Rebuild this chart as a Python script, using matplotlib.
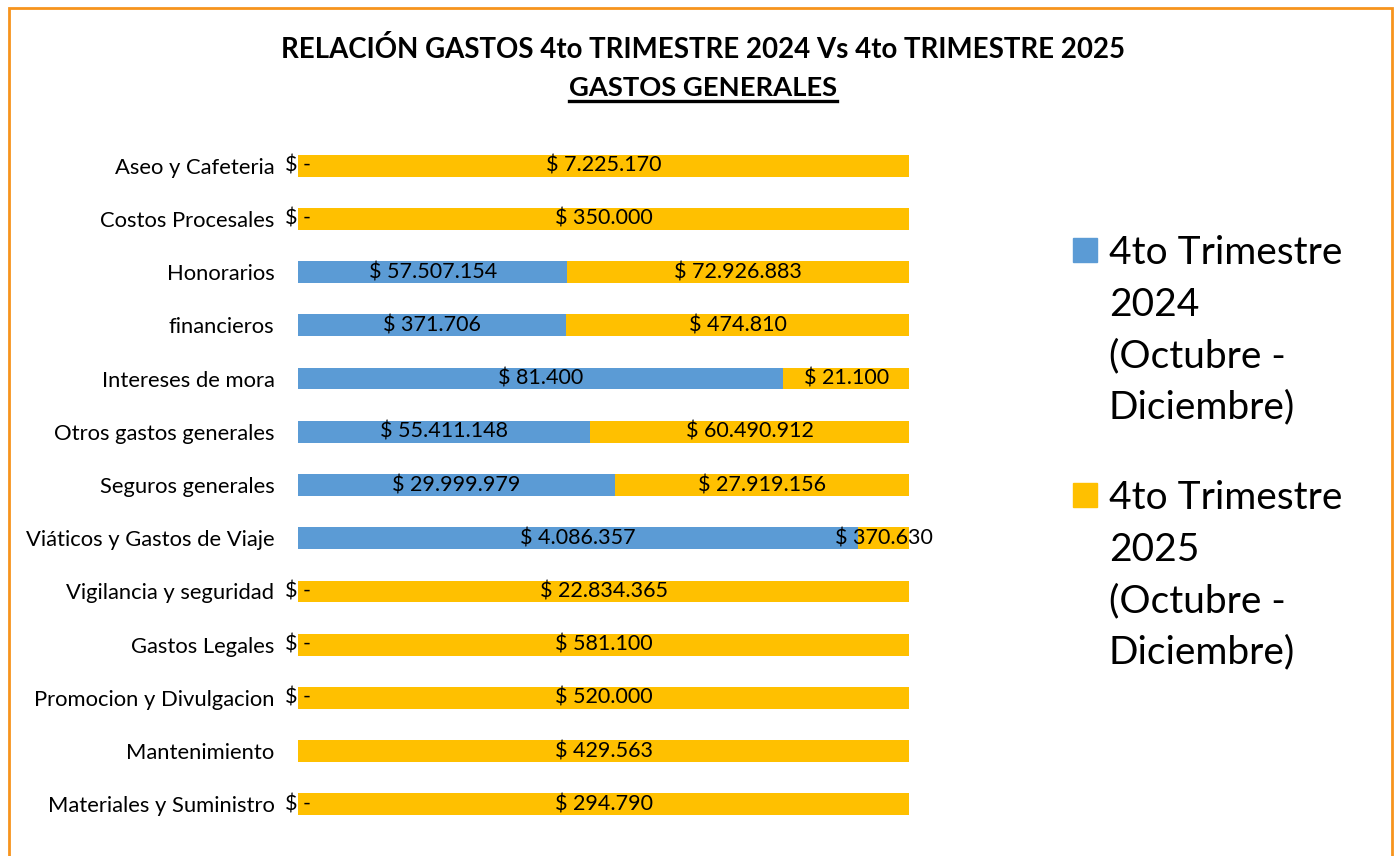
import numpy as np
import matplotlib
matplotlib.use("Agg")
import matplotlib.pyplot as plt
from matplotlib.patches import Rectangle
from matplotlib.lines import Line2D

plt.rcParams['font.family'] = ['Lato', 'DejaVu Sans']

categories = ["Aseo y Cafeteria", "Costos Procesales", "Honorarios", "financieros",
              "Intereses de mora", "Otros gastos generales", "Seguros generales",
              "Viáticos y Gastos de Viaje", "Vigilancia y seguridad", "Gastos Legales",
              "Promocion y Divulgacion", "Mantenimiento", "Materiales y Suministro"]
# None = no value in the sheet (no label shown)
gastos_2024 = [0, 0, 57507154, 371706, 81400, 55411148, 29999979, 4086357,
               0, 0, 0, None, 0]
gastos_2025 = [7225170, 350000, 72926883, 474810, 21100, 60490912, 27919156, 370630,
               22834365, 581100, 520000, 429563, 294790]
series_names = ["4to Trimestre\n2024\n(Octubre -\nDiciembre)",
                "4to Trimestre\n2025\n(Octubre -\nDiciembre)"]

BLUE = "#5B9BD5"
YELLOW = "#FFC000"
BORDER = "#F7941D"


def money(v):
    if v == 0:
        return "$ -"
    return "$ " + f"{v:,}".replace(",", ".")


a = np.array([0 if v is None else v for v in gastos_2024], dtype=float)
b = np.array(gastos_2025, dtype=float)
tot = a + b
pa = a / tot
pb = b / tot

fig = plt.figure(figsize=(14, 8.56), dpi=100)
ax = fig.add_axes([0.2129, 0.0292, 0.4364, 0.8084])

y = np.arange(len(categories))
h = 0.41
ax.barh(y, pa, height=h, color=BLUE)
ax.barh(y, pb, left=pa, height=h, color=YELLOW)

lab_fs = 15.5
for i in range(len(categories)):
    if gastos_2024[i] is not None:
        ax.text(pa[i] / 2, y[i], money(gastos_2024[i]), ha="center", va="center",
                fontsize=lab_fs, color="black")
    ax.text(pa[i] + pb[i] / 2, y[i], money(gastos_2025[i]), ha="center", va="center",
            fontsize=lab_fs, color="black")

ax.set_xlim(0, 1)
ax.set_ylim(len(categories) - 0.5, -0.5)
ax.set_yticks(y)
ax.set_yticklabels(categories, fontsize=15.8)
ax.tick_params(axis="y", length=0, pad=17)
ax.set_xticks([])
for s in ax.spines.values():
    s.set_visible(False)

# title
fig.text(0.502, 0.942, "RELACIÓN GASTOS 4to TRIMESTRE 2024 Vs 4to TRIMESTRE 2025",
         ha="center", va="center", fontsize=19.9, fontweight="bold")
sub = fig.text(0.502, 0.897, "GASTOS GENERALES", ha="center", va="center",
               fontsize=19.7, fontweight="bold")
fig.canvas.draw()
bb = sub.get_window_extent().transformed(fig.transFigure.inverted())
fig.add_artist(Line2D([bb.x0, bb.x1], [bb.y0 - 0.001, bb.y0 - 0.001],
                      transform=fig.transFigure, color="black", lw=2.4))

# legend, handle aligned with first text line
leg_fs = 28
for k, (name, col) in enumerate(zip(series_names, [BLUE, YELLOW])):
    mid = 0.708 - k * 0.286
    fig.add_artist(Rectangle((0.7664, mid - 0.014), 0.0171, 0.028,
                             transform=fig.transFigure, color=col))
    fig.text(0.792, mid + 0.0169, name, ha="left", va="top", fontsize=leg_fs,
             linespacing=1.53)

# outer orange frame (bottom edge runs off the picture)
fig.add_artist(Rectangle((0.0064, -0.05), 0.988, 1.041, transform=fig.transFigure,
                         fill=False, edgecolor=BORDER, lw=2))

fig.savefig("out.png", dpi=100)
